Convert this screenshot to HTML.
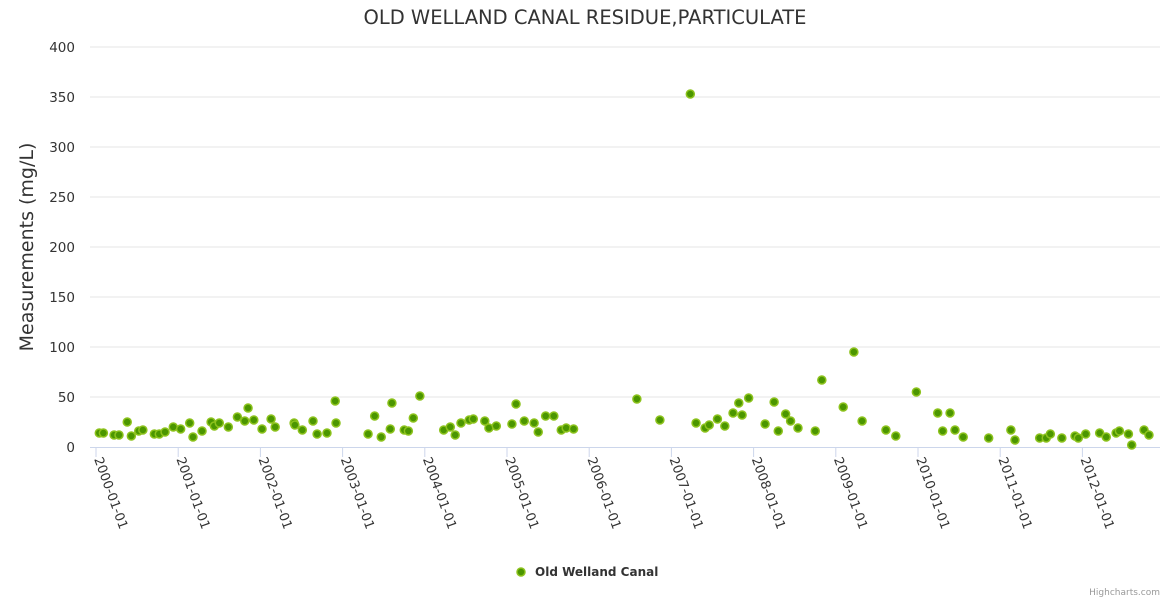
<!DOCTYPE html>
<html><head><meta charset="utf-8"><style>
body{margin:0;background:#fff;}
svg{font-family:"DejaVu Sans","Liberation Sans",sans-serif;display:block}
</style></head><body>
<svg id="chart" width="1170" height="600">
<text x="585" y="24" text-anchor="middle" font-size="19.5" fill="#333">OLD WELLAND CANAL RESIDUE,PARTICULATE</text>
<text transform="translate(33,247) rotate(-90)" text-anchor="middle" font-size="19" fill="#333">Measurements (mg/L)</text>
<g id="grid"></g><g id="xaxis"></g><g id="pts"></g>
<g>
<circle cx="521" cy="572" r="4" fill="#4b9600" stroke="#8cc21c" stroke-width="1.5"/>
<text x="535" y="576" font-size="12" font-weight="bold" fill="#333">Old Welland Canal</text>
</g>
<text x="1160" y="595" text-anchor="end" font-size="9" fill="#999">Highcharts.com</text>
</svg>
<script>
const yTicks=[0,50,100,150,200,250,300,350,400];
const xTickYears=[2000,2001,2002,2003,2004,2005,2006,2007,2008,2009,2010,2011,2012];
const dates=[2000.04,2000.09,2000.22,2000.28,2000.38,2000.43,2000.52,2000.57,2000.71,2000.77,2000.84,2000.94,2001.03,2001.14,2001.18,2001.29,2001.40,2001.44,2001.50,2001.61,2001.72,2001.81,2001.85,2001.92,2002.02,2002.13,2002.18,2002.41,2002.42,2002.51,2002.64,2002.69,2002.81,2002.91,2002.92,
2003.31,2003.39,2003.47,2003.58,2003.60,2003.75,2003.80,2003.86,2003.94,2004.23,2004.31,2004.37,2004.44,2004.54,2004.59,2004.73,2004.78,2004.87,2005.06,2005.11,2005.21,2005.33,2005.38,2005.47,2005.57,2005.66,2005.72,2005.81,
2006.58,2006.86,2007.23,2007.30,2007.41,2007.46,2007.56,2007.65,2007.75,2007.82,2007.86,2007.94,2008.14,2008.25,2008.30,2008.39,2008.45,2008.54,2008.75,2008.83,2009.09,2009.22,2009.32,2009.61,2009.73,2009.98,2010.24,2010.30,2010.39,2010.45,2010.55,2010.86,2011.13,2011.18,2011.48,2011.56,2011.61,2011.75,2011.91,2011.95,2012.04,2012.21,2012.29,2012.41,2012.45,2012.56,2012.60,2012.75,2012.81];
const values=[14,14,12,12,25,11,16,17,13,13,15,20,18,24,10,16,25,21,24,20,30,26,39,27,18,28,20,24,22,17,26,13,14,46,24,
13,31,10,18,44,17,16,29,51,17,20,12,24,27,28,26,19,21,23,43,26,24,15,31,31,17,19,18,
48,27,353,24,19,22,28,21,34,44,32,49,23,45,16,33,26,19,16,67,40,95,26,17,11,55,34,16,34,17,10,9,17,7,9,9,13,9,11,9,13,14,10,14,16,13,2,17,12];
const NS='http://www.w3.org/2000/svg';
const xs=y=>96+(y-2000)*82.2;
const ys=v=>447-v*1.0;
function mk(t,a,p){const e=document.createElementNS(NS,t);for(const k in a)e.setAttribute(k,a[k]);p.appendChild(e);return e;}
const grid=document.getElementById('grid'),xa=document.getElementById('xaxis'),pts=document.getElementById('pts');
yTicks.forEach(v=>{
 if(v>0){const l=mk('line',{x1:90,x2:1160,y1:ys(v),y2:ys(v),stroke:'#e6e6e6'},grid);
 
 }
 const t=mk('text',{x:75,y:ys(v)+5,'text-anchor':'end','font-size':13.5,fill:'#333'},grid);t.textContent=v;
 
 
});
const ax=mk('line',{x1:90,x2:1160,y1:447.5,y2:447.5,stroke:'#ccd6eb'},xa);


xTickYears.forEach(yr=>{
 const x=xs(yr);
 const tk=mk('line',{x1:x,x2:x,y1:447,y2:457,stroke:'#ccd6eb'},xa);
 
 
 const t=mk('text',{transform:`translate(${x-2},${459}) rotate(70)`,'font-size':13,fill:'#333'},xa);
 t.textContent=yr+'-01-01';
 
 
});
dates.forEach((d,i)=>{
 const c=mk('circle',{cx:xs(d),cy:ys(values[i]),r:4,fill:'#4b9600',stroke:'#8cc21c','stroke-width':1.5},pts);
 
 
});
</script>
</body></html>
